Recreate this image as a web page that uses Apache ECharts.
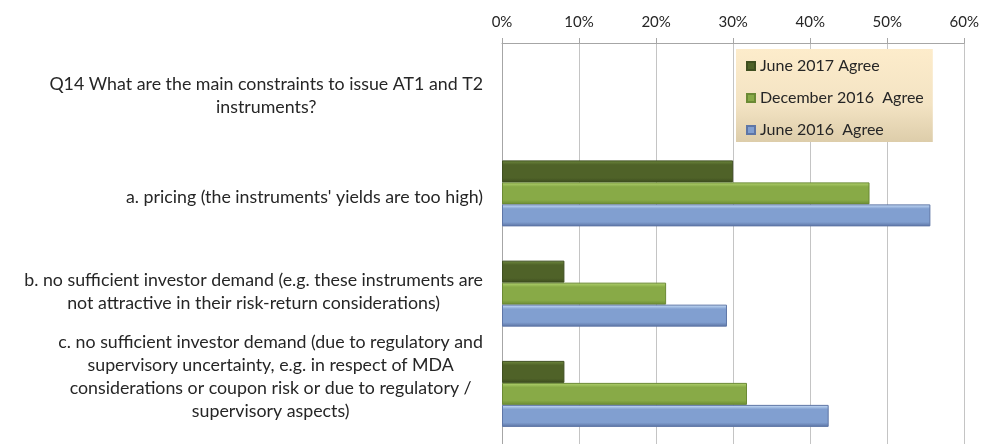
<!DOCTYPE html>
<html>
<head>
<meta charset="utf-8">
<script src="https://cdn.jsdelivr.net/npm/echarts@6/dist/echarts.min.js"></script>
<style>
html,body{margin:0;padding:0;background:#fff;}
#chart{width:982px;height:444px;}
</style>
</head>
<body>
<div id="chart"></div>
<script>
// categories top to bottom (first row is the question, it has no bars)
var categories = [
  'Q14 What are the main constraints to issue AT1 and T2\ninstruments?',
  'a. pricing (the instruments\' yields are too high)',
  'b. no sufficient investor demand (e.g. these instruments are\nnot attractive in their risk-return considerations)',
  'c. no sufficient investor demand (due to regulatory and\nsupervisory uncertainty, e.g. in respect of MDA\nconsiderations or coupon risk or due to regulatory /\nsupervisory aspects)'
]
var seriesNames = ['June 2017 Agree', 'December 2016  Agree', 'June 2016  Agree']
var june2017 = [null, 30, 8.1, 8.1]
var dec2016 = [null, 47.7, 21.3, 31.8]
var june2016 = [null, 55.6, 29.2, 42.4]
var tickValues = [0, 10, 20, 30, 40, 50, 60]

// vertical nudge (px, + is down) so the labels sit like in the original
var labelShift = [3, 4, -2, -17]

function bevel(top, mid, bottom) {
  return new echarts.graphic.LinearGradient(0, 0, 0, 1, [
    {offset: 0, color: top},
    {offset: 0.2, color: mid},
    {offset: 0.8, color: mid},
    {offset: 1, color: bottom}
  ])
}

var font = 'Lato'
var txt = '#262626'
var chart = echarts.init(document.getElementById('chart'))
chart.setOption({
  animation: false,
  textStyle: {fontFamily: font},
  legend: {
    orient: 'vertical',
    left: 736,
    top: 49,
    padding: [9, 9, 4, 10],
    itemGap: 16,
    itemWidth: 8,
    itemHeight: 8,
    icon: 'rect',
    textStyle: {fontFamily: font, fontSize: 16, color: txt, lineHeight: 14},
    backgroundColor: new echarts.graphic.LinearGradient(0, 0, 0, 1, [
      {offset: 0, color: '#fdeccb'},
      {offset: 0.6, color: '#f3e3c3'},
      {offset: 1, color: '#ddcdaa'}
    ]),
    data: seriesNames
  },
  grid: {left: 502, right: 17, top: 43, bottom: -3},
  xAxis: {
    type: 'value',
    position: 'top',
    min: tickValues[0],
    max: tickValues[tickValues.length - 1],
    interval: 10,
    axisLine: {show: true, lineStyle: {color: '#a6a6a6'}},
    axisTick: {show: true, length: 5, lineStyle: {color: '#a6a6a6'}},
    splitLine: {show: true, lineStyle: {color: '#c4c4c4'}},
    axisLabel: {formatter: '{value}%', fontFamily: font, fontSize: 15, color: txt, margin: 13}
  },
  yAxis: {
    type: 'category',
    inverse: true,
    data: categories.map(function (c, i) {
      var s = labelShift[i]
      return {value: c, textStyle: {padding: s > 0 ? [2 * s, 0, 0, 0] : [0, 0, -2 * s, 0]}}
    }),
    axisLine: {show: true, lineStyle: {color: '#a6a6a6'}},
    axisTick: {show: false},
    axisLabel: {
      interval: 0,
      margin: 19,
      align: 'right',
      fontFamily: font,
      fontSize: 17.8,
      color: txt,
      formatter: function (v) {
        return v.split('\n').map(function (l) { return '{c|' + l + '}' }).join('\n')
      },
      rich: {c: {align: 'center', fontFamily: font, fontSize: 17.8, color: txt, lineHeight: 23}}
    }
  },
  series: [
    {
      name: seriesNames[0], type: 'bar', data: june2017, barWidth: 22, barGap: '0%',
      itemStyle: {color: bevel('#6f8a3e', '#4f6228', '#3c4b1e'), borderColor: '#3f4f20', borderWidth: 1}
    },
    {
      name: seriesNames[1], type: 'bar', data: dec2016, barWidth: 22, barGap: '0%',
      itemStyle: {color: bevel('#b3d470', '#88aa47', '#6a8a33'), borderColor: '#6b8a35', borderWidth: 1}
    },
    {
      name: seriesNames[2], type: 'bar', data: june2016, barWidth: 22, barGap: '0%',
      itemStyle: {color: bevel('#cfe4fb', '#819fd0', '#5b73a3'), borderColor: '#5e76a6', borderWidth: 1}
    }
  ]
})
</script>
</body>
</html>
